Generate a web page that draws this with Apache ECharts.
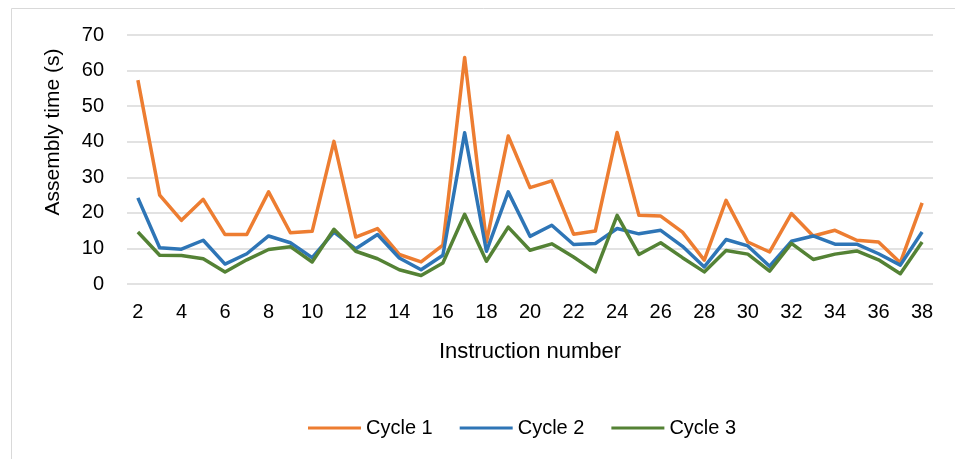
<!DOCTYPE html>
<html>
<head>
<meta charset="utf-8">
<script src="https://cdn.jsdelivr.net/npm/echarts@6/dist/echarts.min.js"></script>
<style>html,body{margin:0;padding:0;background:#fff}#c{width:955px;height:459px}</style>
</head>
<body>
<div id="c"></div>
<script>
var instructions = ['2','3','4','5','6','7','8','9','10','11','12','13','14','15','16','17','18','19','20','21','22','23','24','25','26','27','28','29','30','31','32','33','34','35','36','37','38'];
var cycle1 = [57.3,25.0,17.9,23.8,13.9,13.9,25.9,14.4,14.8,40.1,13.2,15.6,8.3,6.2,10.9,63.7,11.8,41.6,27.1,29.0,14.0,14.9,42.6,19.3,19.1,14.6,6.7,23.5,11.8,9.0,19.8,13.5,15.1,12.3,11.8,6.0,22.8];
var cycle2 = [24.2,10.2,9.8,12.3,5.6,8.5,13.5,11.6,7.4,14.6,9.9,13.9,7.3,4.0,8.1,42.5,9.2,25.9,13.4,16.5,11.1,11.4,15.6,14.1,15.1,10.6,4.8,12.5,10.7,5.0,12.0,13.5,11.2,11.2,8.5,5.3,14.6];
var cycle3 = [14.6,8.1,8.0,7.1,3.4,6.8,9.7,10.5,6.2,15.4,9.2,7.1,4.0,2.4,5.9,19.6,6.4,16.0,9.5,11.3,7.6,3.4,19.3,8.3,11.6,7.4,3.4,9.4,8.4,3.6,11.4,6.9,8.4,9.3,6.8,2.9,11.8];
var seriesNames = ['Cycle 1','Cycle 2','Cycle 3'];
var colors = ['#ED7D31','#2E75B6','#548235'];
var yTitle = 'Assembly time (s)';
var xTitle = 'Instruction number';

var chart = echarts.init(document.getElementById('c'), null, {renderer:'canvas'});
var font = 'Liberation Sans, Arial, sans-serif';
var data = [cycle1, cycle2, cycle3];
chart.setOption({
  animation: false,
  backgroundColor: '#fff',
  color: colors,
  graphic: [{
    type: 'rect', left: 9, top: 6, shape: {width: 1000, height: 500},
    style: {fill: 'none', stroke: '#d9d9d9', lineWidth: 1}, silent: true, z: -1
  }, {
    type: 'text', x: 53, y: 132, rotation: Math.PI / 2,
    style: {text: yTitle, fontFamily: font, fontSize: 21, fill: '#000', align: 'center', verticalAlign: 'middle'},
    silent: true
  }],
  grid: {left: 127, right: 22, top: 35, bottom: 175},
  legend: {
    data: seriesNames,
    top: 413,
    left: 303,
    itemWidth: 53,
    itemHeight: 3,
    itemGap: 27,
    icon: 'rect',
    textStyle: {fontFamily: font, fontSize: 20, color: '#000'}
  },
  xAxis: {
    type: 'category',
    data: instructions,
    boundaryGap: true,
    name: xTitle,
    nameLocation: 'middle',
    nameGap: 57,
    nameTextStyle: {fontFamily: font, fontSize: 22, color: '#000'},
    axisLine: {show: false},
    axisTick: {show: false},
    axisLabel: {interval: 1, fontFamily: font, fontSize: 20, color: '#000', margin: 18}
  },
  yAxis: {
    type: 'value',
    min: 0, max: 70, interval: 10,
    axisLine: {show: false},
    axisTick: {show: false},
    axisLabel: {fontFamily: font, fontSize: 20, color: '#000', margin: 23},
    splitLine: {lineStyle: {color: '#d9d9d9', width: 1.5}}
  },
  series: seriesNames.map(function(n, i){
    return {
      name: n, type: 'line', data: data[i],
      symbol: 'none', smooth: false,
      lineStyle: {width: 3.5, color: colors[i], join: 'round'},
      itemStyle: {color: colors[i]}
    };
  })
});
</script>
</body>
</html>
